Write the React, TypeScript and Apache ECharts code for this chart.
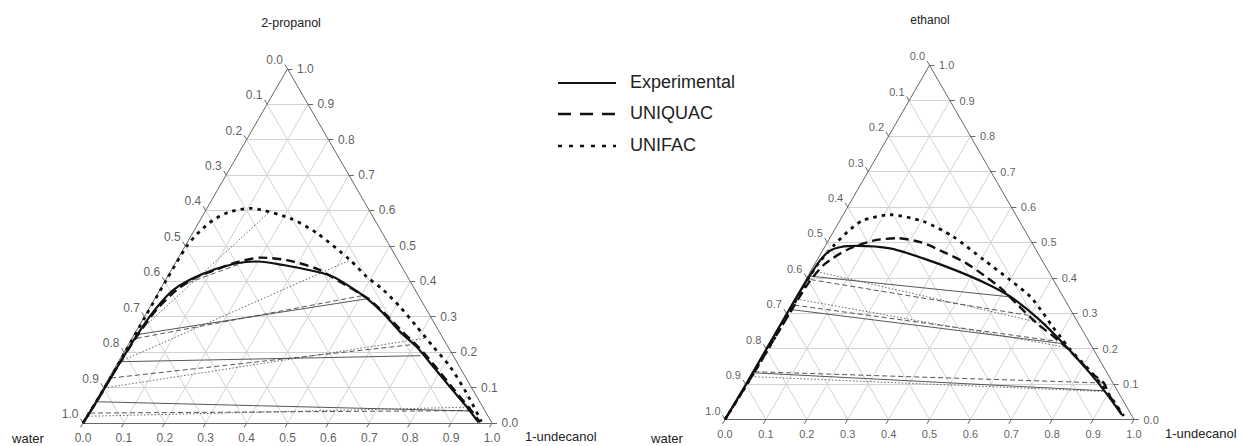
import React, { useEffect, useRef } from 'react';
import * as echarts from 'echarts';

// tick values / labels shared by all three edges
const TICKS = [0, 0.1, 0.2, 0.3, 0.4, 0.5, 0.6, 0.7, 0.8, 0.9, 1.0];
const TICK_LABELS = ['0.0', '0.1', '0.2', '0.3', '0.4', '0.5', '0.6', '0.7', '0.8', '0.9', '1.0'];

// compositions as [x 1-undecanol, x alcohol] (water = rest)
// ---- water + 2-propanol + 1-undecanol ----
const propExperimental = [
  [0, 0], [0.003, 0.06], [0.005, 0.17], [0.008, 0.25], [0.016, 0.32], [0.033, 0.376], [0.077, 0.418],
  [0.143, 0.449], [0.2, 0.456], [0.267, 0.446], [0.358, 0.427], [0.405, 0.413], [0.46, 0.385],
  [0.518, 0.352], [0.579, 0.31], [0.646, 0.258], [0.708, 0.215], [0.777, 0.159], [0.846, 0.102],
  [0.915, 0.046], [0.966, 0.002],
];
const propUniquac = [
  [0, 0], [0.003, 0.06], [0.005, 0.17], [0.01, 0.25], [0.02, 0.32], [0.041, 0.376], [0.07, 0.41],
  [0.107, 0.432], [0.144, 0.452], [0.2, 0.467], [0.268, 0.46], [0.355, 0.435], [0.43, 0.398],
  [0.52, 0.352], [0.582, 0.31], [0.652, 0.258], [0.715, 0.213], [0.785, 0.157], [0.853, 0.1],
  [0.92, 0.045], [0.97, 0.002],
];
const propUnifac = [
  [0, 0], [0.003, 0.1], [0.003, 0.2], [0.002, 0.3], [0.002, 0.404], [0.004, 0.499], [0.015, 0.542],
  [0.032, 0.573], [0.06, 0.596], [0.105, 0.606], [0.217, 0.578], [0.304, 0.536], [0.423, 0.46],
  [0.487, 0.413], [0.546, 0.376], [0.611, 0.328], [0.68, 0.272], [0.749, 0.215], [0.818, 0.159],
  [0.896, 0.084], [0.972, 0.004],
];
// tie lines: [u1, p1, u2, p2]
const propTieExperimental = [
  [0.01, 0.25, 0.52, 0.351],
  [0.004, 0.173, 0.73, 0.19],
  [0.004, 0.06, 0.93, 0.034],
];
const propTieUniquac = [
  [0.045, 0.388, 0.19, 0.466],
  [0.012, 0.239, 0.505, 0.36],
  [0.005, 0.127, 0.70, 0.222],
  [0.003, 0.028, 0.935, 0.035],
];
const propTieUnifac = [
  [0.004, 0.249, 0.16, 0.6],
  [0.004, 0.173, 0.423, 0.46],
  [0.003, 0.099, 0.72, 0.24],
  [0.003, 0.019, 0.93, 0.045],
];

// ---- water + ethanol + 1-undecanol ----
const ethExperimental = [
  [0, 0], [0.002, 0.1], [0.002, 0.2], [0.002, 0.3], [0.004, 0.4], [0.008, 0.45], [0.018, 0.476],
  [0.04, 0.487], [0.077, 0.49], [0.162, 0.483], [0.257, 0.455], [0.354, 0.421], [0.456, 0.38],
  [0.526, 0.346], [0.62, 0.287], [0.718, 0.216], [0.827, 0.131], [0.893, 0.076], [0.964, 0.013],
];
const ethUniquac = [
  [0, 0], [0.004, 0.1], [0.006, 0.2], [0.008, 0.3], [0.012, 0.39], [0.025, 0.44], [0.06, 0.48],
  [0.11, 0.505], [0.165, 0.512], [0.23, 0.5], [0.3, 0.472], [0.366, 0.443], [0.428, 0.408],
  [0.49, 0.37], [0.556, 0.322], [0.626, 0.272], [0.69, 0.232], [0.738, 0.2], [0.835, 0.128],
  [0.875, 0.103], [0.902, 0.072], [0.968, 0.01],
];
const ethUnifac = [
  [0, 0], [0.004, 0.1], [0.006, 0.2], [0.006, 0.3], [0.005, 0.4], [0.008, 0.44], [0.02, 0.49],
  [0.035, 0.53], [0.056, 0.562], [0.114, 0.578], [0.206, 0.559], [0.3, 0.516], [0.407, 0.451],
  [0.5, 0.394], [0.573, 0.347], [0.628, 0.3], [0.67, 0.262], [0.705, 0.232], [0.742, 0.2],
  [0.837, 0.127], [0.904, 0.07], [0.97, 0.01],
];
const ethTieExperimental = [
  [0.004, 0.405, 0.526, 0.346],
  [0.002, 0.311, 0.72, 0.214],
  [0.002, 0.132, 0.886, 0.081],
];
const ethTieUniquac = [
  [0.012, 0.395, 0.595, 0.294],
  [0.008, 0.323, 0.70, 0.221],
  [0.004, 0.135, 0.876, 0.103],
];
const ethTieUnifac = [
  [0.006, 0.42, 0.665, 0.266],
  [0.006, 0.34, 0.725, 0.205],
  [0.004, 0.121, 0.89, 0.079],
];

const SQ = Math.sqrt(3) / 2;
const SIDE = 409;
const toXY = (u: number, p: number) => [u + p / 2, p * SQ];

const FONT = "'Liberation Sans', Arial, Helvetica, sans-serif";

const PANELS = [
  {
    left: 83, bottom: 423, fontSize: 12,
    exp: propExperimental, uniquac: propUniquac, unifac: propUnifac,
    tieExp: propTieExperimental, tieUniquac: propTieUniquac, tieUnifac: propTieUnifac,
  },
  {
    left: 725, bottom: 419.5, fontSize: 11,
    exp: ethExperimental, uniquac: ethUniquac, unifac: ethUnifac,
    tieExp: ethTieExperimental, tieUniquac: ethTieUniquac, tieUnifac: ethTieUnifac,
  },
];

function buildSeries(i: number, P: any) {
  const ax = { xAxisIndex: i, yAxisIndex: i };
  const L = 5 / SIDE; // tick length in data units
  const inner = TICKS.slice(1, -1);
  const grid: any[] = [];
  inner.forEach((t) => {
    grid.push({ coords: [toXY(0, t), toXY(1 - t, t)] });
    grid.push({ coords: [toXY(t, 0), toXY(t, 1 - t)] });
    grid.push({ coords: [toXY(1 - t, 0), toXY(0, 1 - t)] });
  });
  const edges = [
    { coords: [toXY(0, 0), toXY(1, 0)] },
    { coords: [toXY(1, 0), toXY(0, 1)] },
    { coords: [toXY(0, 1), toXY(0, 0)] },
  ];
  const ticks: any[] = [];
  TICKS.forEach((t) => {
    const b = toXY(t, 0);
    ticks.push({ coords: [b, [b[0] - 0.5 * L, b[1] - SQ * L]] });
    const r = toXY(1 - t, t);
    ticks.push({ coords: [r, [r[0] + L, r[1]]] });
    const l = toXY(0, 1 - t);
    ticks.push({ coords: [l, [l[0] - 0.5 * L, l[1] + SQ * L]] });
  });
  const tie = (arr: number[][]) => arr.map((d) => ({ coords: [toXY(d[0], d[1]), toXY(d[2], d[3])] }));
  const curve = (arr: number[][]) => arr.map((d) => toXY(d[0], d[1]));
  const labelBase = { show: true, fontSize: P.fontSize, color: '#333', fontFamily: FONT, formatter: '{b}' };
  const scatterBase = {
    type: 'scatter', ...ax, symbolSize: 1, itemStyle: { color: 'rgba(0,0,0,0)' }, silent: true, clip: false,
  };
  const linesBase = { type: 'lines', coordinateSystem: 'cartesian2d', ...ax, silent: true, clip: false };
  return [
    { ...linesBase, name: 'grid' + i, data: grid, lineStyle: { color: '#d2d2d2', width: 1, opacity: 1 } },
    { ...linesBase, name: 'edge' + i, data: edges, lineStyle: { color: '#666', width: 1, opacity: 1 } },
    { ...linesBase, name: 'tick' + i, data: ticks, lineStyle: { color: '#666', width: 1, opacity: 1 } },
    {
      ...scatterBase, name: 'bl' + i,
      data: TICKS.map((t, k) => ({ value: toXY(t, 0), name: TICK_LABELS[k] })),
      label: { ...labelBase, position: 'bottom', distance: 8 },
    },
    {
      ...scatterBase, name: 'rl' + i,
      data: TICKS.map((t, k) => ({ value: toXY(1 - t, t), name: TICK_LABELS[k] })),
      label: { ...labelBase, position: 'right', distance: 9 },
    },
    {
      ...scatterBase, name: 'll' + i,
      data: TICKS.map((t, k) => ({ value: toXY(0, 1 - t), name: TICK_LABELS[k] })),
      label: { ...labelBase, position: 'left', distance: 4, offset: [0, -9] },
    },
    { ...linesBase, name: 'tieExp' + i, data: tie(P.tieExp), lineStyle: { color: '#444', width: 0.9, opacity: 1 } },
    { ...linesBase, name: 'tieUniquac' + i, data: tie(P.tieUniquac), lineStyle: { color: '#444', width: 0.9, opacity: 1, type: [5, 3] } },
    { ...linesBase, name: 'tieUnifac' + i, data: tie(P.tieUnifac), lineStyle: { color: '#555', width: 0.9, opacity: 1, type: [1.5, 2] } },
    {
      type: 'line', ...ax, name: 'Experimental' + i, data: curve(P.exp), showSymbol: false, smooth: 0.25,
      silent: true, clip: false, lineStyle: { color: '#111', width: 2.2 },
    },
    {
      type: 'line', ...ax, name: 'UNIQUAC' + i, data: curve(P.uniquac), showSymbol: false, smooth: 0.25,
      silent: true, clip: false, lineStyle: { color: '#111', width: 2.4, type: [9, 5] },
    },
    {
      type: 'line', ...ax, name: 'UNIFAC' + i, data: curve(P.unifac), showSymbol: false, smooth: 0.25,
      silent: true, clip: false, lineStyle: { color: '#111', width: 2.8, type: [3.5, 5] },
    },
  ];
}

export default function App() {
  const ref = useRef<HTMLDivElement>(null);
  useEffect(() => {
    if (!ref.current) return;
    const chart = echarts.init(ref.current, undefined, { renderer: 'svg' });
    const grids = PANELS.map((P) => ({
      left: P.left, top: P.bottom - SIDE * SQ, width: SIDE, height: SIDE * SQ, containLabel: false,
    }));
    const xAxis = PANELS.map((_, i) => ({ type: 'value', gridIndex: i, min: 0, max: 1, show: false }));
    const yAxis = PANELS.map((_, i) => ({ type: 'value', gridIndex: i, min: 0, max: SQ, show: false }));
    const series: any[] = [];
    PANELS.forEach((P, i) => series.push(...buildSeries(i, P)));
    const txt = (x: number, y: number, text: string, size: number, align = 'center') => ({
      type: 'text', x, y,
      style: { text, fontSize: size, fontFamily: FONT, fill: '#222', align, verticalAlign: 'middle' },
    });
    const legendLine = (y: number, dash: any, w: number) => ({
      type: 'line', shape: { x1: 558, y1: y, x2: 616, y2: y },
      style: { stroke: '#111', lineWidth: w, lineDash: dash },
    });
    chart.setOption({
      animation: false,
      backgroundColor: '#ffffff',
      grid: grids,
      xAxis,
      yAxis,
      series,
      graphic: [
        txt(291, 23, '2-propanol', 12.5),
        txt(930, 20, 'ethanol', 12),
        txt(28, 438, 'water', 13),
        txt(667, 438, 'water', 13),
        txt(525, 436, '1-undecanol', 13, 'left'),
        txt(1165, 433, '1-undecanol', 13, 'left'),
        legendLine(83, null, 2.2),
        legendLine(114, [13, 9], 2.4),
        legendLine(146, [4, 7], 2.6),
        txt(630, 82, 'Experimental', 18, 'left'),
        txt(630, 113, 'UNIQUAC', 18, 'left'),
        txt(630, 145, 'UNIFAC', 18, 'left'),
      ],
    });
    return () => chart.dispose();
  }, []);
  return (
    <div
      ref={ref}
      style={{ position: 'fixed', left: 0, top: 0, width: 1242, height: 446, background: '#fff' }}
    />
  );
}
